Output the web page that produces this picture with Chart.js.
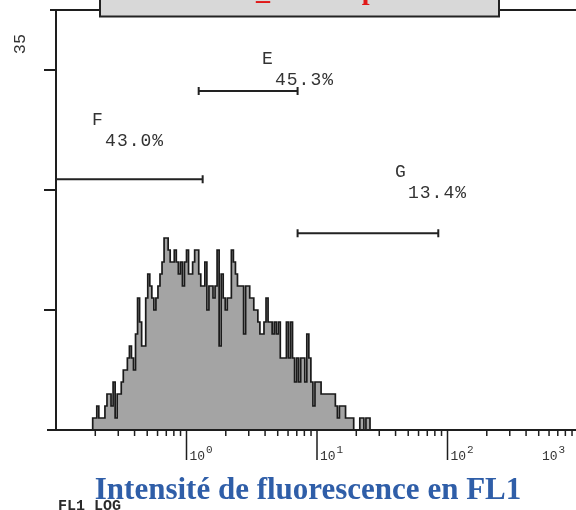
<!DOCTYPE html>
<html>
<head>
<meta charset="utf-8">
<script src="https://cdn.jsdelivr.net/npm/chart.js@4.4.0/dist/chart.umd.min.js"></script>
<style>
  html, body { margin: 0; padding: 0; background: #fff; overflow: hidden; }
  canvas { display: block; }
</style>
</head>
<body>
<canvas id="chart" width="580" height="510"></canvas>
<script>
// FL1 log histogram: 64 channels per decade, channel 0 = 10^-1
const channelsPerDecade = 64;
const firstChannel = 18;
const counts = [
  0, 1, 1, 2, 1, 1, 1, 2, 3, 3, 2, 4, 1, 3, 3, 4, 5, 5, 6, 7,
  6, 5, 8, 11, 9, 7, 7, 11, 13, 12, 11, 10, 11, 12, 13, 14, 16, 16, 15, 14,
  14, 15, 14, 13, 14, 12, 14, 15, 13, 13, 14, 15, 15, 13, 12, 12, 14, 10, 12, 12,
  11, 12, 15, 7, 13, 11, 10, 11, 11, 15, 14, 13, 12, 12, 12, 8, 12, 12, 11, 11,
  10, 10, 9, 8, 8, 9, 11, 9, 9, 8, 9, 8, 9, 6, 6, 6, 9, 6, 9, 6,
  4, 6, 4, 6, 6, 4, 8, 6, 4, 2, 4, 4, 4, 3, 3, 3, 3, 3, 3, 3,
  2, 1, 2, 2, 2, 1, 1, 1, 1, 0, 0, 0, 1, 1, 0, 1, 1, 0, 0
];

const yMax = 35;
const yTicks = [10, 20, 30];
const decades = [1, 10, 100, 1000];
const exponents = ['0', '1', '2', '3'];

// markers
const gateNames = ['F', 'E', 'G'];
const gatePercents = ['43.0%', '45.3%', '13.4%'];
const gateFrom = [0.1, 1.24, 7.1];
const gateTo = [1.33, 7.1, 85];

const points = counts.map((c, i) => ({
  x: Math.pow(10, (firstChannel + i) / channelsPerDecade - 1),
  y: c
}));

// where each marker bar and its label sit (bar level and label baseline in counts)
const gateLayout = [
  { level: 20.9, labelX: 0.189, labelY: 25.4 },
  { level: 28.25, labelX: 3.79, labelY: 30.5 },
  { level: 16.4, labelX: 39.6, labelY: 21.1 }
];

const decorations = {
  id: 'decorations',
  afterDraw(chart) {
    const { ctx, chartArea: area, scales: { x, y } } = chart;
    const W = chart.width;
    ctx.save();
    ctx.strokeStyle = '#1e1e1e';
    ctx.fillStyle = '#333';
    ctx.lineWidth = 2;

    // frame
    ctx.beginPath();
    ctx.moveTo(area.left - 6, area.top);
    ctx.lineTo(W, area.top);
    ctx.moveTo(area.left, area.top);
    ctx.lineTo(area.left, area.bottom);
    ctx.moveTo(area.left - 9, area.bottom);
    ctx.lineTo(W, area.bottom);
    yTicks.forEach(v => {
      const py = y.getPixelForValue(v);
      ctx.moveTo(area.left - 12, py);
      ctx.lineTo(area.left, py);
    });
    ctx.stroke();

    // log ticks on the x axis
    ctx.lineWidth = 1.5;
    ctx.beginPath();
    [0.1, 1, 10, 100].forEach(b => {
      for (let k = 2; k <= 9; k++) {
        const px = x.getPixelForValue(k * b);
        ctx.moveTo(px, area.bottom);
        ctx.lineTo(px, area.bottom + 6);
      }
    });
    decades.forEach(v => {
      const px = x.getPixelForValue(v);
      ctx.moveTo(px, area.bottom);
      ctx.lineTo(px, area.bottom + 30);
    });
    ctx.stroke();

    decades.forEach((v, i) => {
      const px = x.getPixelForValue(v);
      ctx.font = '13px "Liberation Mono"';
      const w = ctx.measureText('10').width;
      const lx = px < W - 20 ? px + 3 : px - 36;
      ctx.textAlign = 'left';
      ctx.textBaseline = 'alphabetic';
      ctx.fillText('10', lx, area.bottom + 30);
      ctx.font = '11px "Liberation Mono"';
      ctx.fillText(exponents[i], lx + w + 1, area.bottom + 23);
    });

    // y maximum
    ctx.save();
    ctx.translate(20, 44);
    ctx.rotate(-Math.PI / 2);
    ctx.font = '17px "Liberation Mono"';
    ctx.textAlign = 'center';
    ctx.textBaseline = 'middle';
    ctx.fillText(String(yMax), 0, 0);
    ctx.restore();

    // marker bars
    ctx.lineWidth = 2;
    ctx.strokeStyle = '#222';
    gateNames.forEach((name, i) => {
      const g = gateLayout[i];
      const x0 = x.getPixelForValue(gateFrom[i]);
      const x1 = x.getPixelForValue(gateTo[i]);
      const py = y.getPixelForValue(g.level);
      ctx.beginPath();
      ctx.moveTo(x0, py);
      ctx.lineTo(x1, py);
      if (gateFrom[i] > x.min) {
        ctx.moveTo(x0, py - 4);
        ctx.lineTo(x0, py + 4);
      }
      ctx.moveTo(x1, py - 4);
      ctx.lineTo(x1, py + 4);
      ctx.stroke();

      const lx = x.getPixelForValue(g.labelX);
      const ly = y.getPixelForValue(g.labelY);
      ctx.font = '18px "Liberation Mono"';
      ctx.letterSpacing = '0px';
      ctx.textAlign = 'left';
      ctx.textBaseline = 'alphabetic';
      ctx.fillText(name, lx, ly);
      ctx.letterSpacing = '1px';
      ctx.fillText(gatePercents[i], lx + 13, ly + 21);
      ctx.letterSpacing = '0px';
    });

    // sample title box, mostly above the page edge
    ctx.fillStyle = '#d8d8d8';
    ctx.fillRect(100, -4, 399, 20.5);
    ctx.strokeStyle = '#222';
    ctx.lineWidth = 2;
    ctx.strokeRect(100, -4, 399, 20.5);
    ctx.fillStyle = '#e01818';
    ctx.font = 'bold 28px "Liberation Serif"';
    ctx.textAlign = 'left';
    const head = 'Témoin';
    ctx.fillText(head + '_Anticorps', 256 - ctx.measureText(head).width, -1);

    // axis captions
    ctx.fillStyle = '#2a2a2a';
    ctx.font = 'bold 15px "Liberation Mono"';
    ctx.fillText('FL1 LOG', 58, 510);
    ctx.fillStyle = '#2f5ea8';
    ctx.font = 'bold 31px "Liberation Serif"';
    ctx.textAlign = 'center';
    ctx.fillText('Intensité de fluorescence en FL1', 308, 499);
    ctx.restore();
  }
};

const config = {
  type: 'line',
  data: {
    datasets: [
      {
        label: 'FL1',
        data: points,
        stepped: 'after',
        fill: 'origin',
        backgroundColor: '#a4a4a4',
        borderColor: '#1a1a1a',
        borderWidth: 1.7,
        pointRadius: 0,
      },
    ],
  },
  options: {
    responsive: false,
    animation: false,
    devicePixelRatio: 1,
    layout: {
      padding: { left: 56, right: 2, top: 10, bottom: 80 },
    },
    scales: {
      x: { type: 'logarithmic', min: 0.1, max: 1000, display: false },
      y: { type: 'linear', min: 0, max: yMax, display: false },
    },
    plugins: {
      legend: { display: false },
      tooltip: { enabled: false },
    },
  },
  plugins: [decorations],
};

const myChart = new Chart(document.getElementById('chart'), config);
</script>
</body>
</html>
